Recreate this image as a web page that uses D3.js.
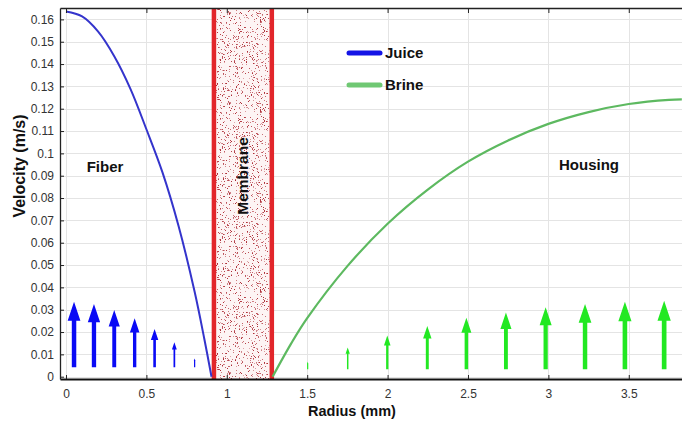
<!DOCTYPE html>
<html>
<head>
<meta charset="utf-8">
<script src="https://cdn.jsdelivr.net/npm/d3@7"></script>
<style>
  body { margin: 0; background: #fff; }
  svg { display: block; font-family: "Liberation Sans", Arial, sans-serif; }
  .tick text { fill: #333; font-size: 12px; }
  .lbl { font-weight: bold; fill: #111; }
</style>
</head>
<body>
<div id="chart"></div>
<script>
// data vars (radius in mm, velocity in m/s)
const juiceRadius = [0, 0.1, 0.2, 0.3, 0.4, 0.5, 0.6, 0.7, 0.8, 0.86, 0.905];
const juiceVelocity = [0.1635, 0.1613, 0.1545, 0.1435, 0.129, 0.1108, 0.0915, 0.0675, 0.038, 0.017, 0];

const brineRadius = [1.285, 1.4, 1.5, 1.75, 2.0, 2.25, 2.5, 2.75, 3.0, 3.25, 3.5, 3.75, 3.83];
const brineVelocity = [0, 0.0148, 0.0262, 0.0495, 0.0685, 0.0838, 0.0963, 0.1058, 0.1132, 0.1185, 0.1221, 0.124, 0.1242];

const juiceArrowRadius = [0.05, 0.174, 0.30, 0.427, 0.551, 0.674, 0.80];
const juiceArrowTip = [0.0336, 0.0326, 0.0299, 0.0262, 0.0214, 0.0154, 0.0082];
const juiceArrowBase = 0.0042;

const brineArrowRadius = [1.503, 1.752, 1.998, 2.247, 2.49, 2.736, 2.983, 3.228, 3.476, 3.72];
const brineArrowTip = [0.0067, 0.0131, 0.0184, 0.0227, 0.0264, 0.0288, 0.0311, 0.0326, 0.0336, 0.034];
const brineArrowBase = 0.0033;

const membraneEdges = [0.92, 1.28];

const xTicks = [0, 0.5, 1, 1.5, 2, 2.5, 3, 3.5];
const yTicks = d3.range(0, 0.1601, 0.01);

// constants
const width = 682;
const height = 422;
const margin = { top: 8, right: 0, bottom: 43, left: 60 };

const x = d3.scaleLinear()
  .domain([-0.0373, 3.831])
  .range([margin.left, width - margin.right]);

const y = d3.scaleLinear()
  .domain([-0.00103, 0.1651])
  .range([height - margin.bottom, margin.top]);

const svg = d3.select("#chart")
  .append("svg")
  .attr("width", width)
  .attr("height", height);

// grid
svg.append("g")
  .selectAll("line")
  .data(yTicks)
  .join("line")
  .attr("x1", margin.left)
  .attr("x2", width)
  .attr("y1", d => Math.round(y(d)) + 0.5)
  .attr("y2", d => Math.round(y(d)) + 0.5)
  .attr("stroke", "#e4e4e4");

svg.append("g")
  .selectAll("line")
  .data(xTicks)
  .join("line")
  .attr("x1", d => Math.round(x(d)) + 0.5)
  .attr("x2", d => Math.round(x(d)) + 0.5)
  .attr("y1", margin.top)
  .attr("y2", height - margin.bottom)
  .attr("stroke", "#e4e4e4");

// membrane stipple (texture only)
const defs = svg.append("defs");
const pat = defs.append("pattern")
  .attr("id", "stipple")
  .attr("patternUnits", "userSpaceOnUse")
  .attr("width", 60)
  .attr("height", 90);
const rnd = d3.randomLcg(0.42);
for (let i = 0; i < 680; i++) {
  pat.append("rect")
    .attr("x", Math.floor(rnd() * 60))
    .attr("y", Math.floor(rnd() * 90))
    .attr("width", 1)
    .attr("height", 1)
    .attr("fill", "#a8202a")
    .attr("opacity", 0.35 + rnd() * 0.6);
}

svg.append("rect")
  .attr("x", x(membraneEdges[0]))
  .attr("y", margin.top)
  .attr("width", x(membraneEdges[1]) - x(membraneEdges[0]))
  .attr("height", height - margin.bottom - margin.top)
  .attr("fill", "#fdf4f4");

svg.append("rect")
  .attr("x", x(membraneEdges[0]))
  .attr("y", margin.top)
  .attr("width", x(membraneEdges[1]) - x(membraneEdges[0]))
  .attr("height", height - margin.bottom - margin.top)
  .attr("fill", "url(#stipple)");

svg.append("g")
  .selectAll("line")
  .data(membraneEdges)
  .join("line")
  .attr("x1", d => x(d))
  .attr("x2", d => x(d))
  .attr("y1", margin.top)
  .attr("y2", height - margin.bottom)
  .attr("stroke", "#e2262b")
  .attr("stroke-width", 4.5);

svg.append("text")
  .attr("class", "lbl")
  .attr("transform", `translate(${ (x(membraneEdges[0]) + x(membraneEdges[1])) / 2 + 5 }, 176) rotate(-90)`)
  .attr("text-anchor", "middle")
  .style("font-size", "15.5px")
  .text("Membrane");

// arrows
function arrowPath(r, tip, base) {
  const px = x(r);
  const yt = y(tip);
  const yb = y(base);
  const len = yb - yt;
  const hl = 0.29 * len;
  const hw = 0.097 * len;
  const sw = Math.max(0.034 * len, 0.6);
  return `M${px - sw},${yb} L${px - sw},${yt + hl} L${px - hw},${yt + hl} L${px},${yt} ` +
    `L${px + hw},${yt + hl} L${px + sw},${yt + hl} L${px + sw},${yb} Z`;
}

svg.append("g")
  .selectAll("path")
  .data(juiceArrowRadius)
  .join("path")
  .attr("d", (d, i) => arrowPath(d, juiceArrowTip[i], juiceArrowBase))
  .attr("fill", "#0a0af5");

svg.append("g")
  .selectAll("path")
  .data(brineArrowRadius)
  .join("path")
  .attr("d", (d, i) => arrowPath(d, brineArrowTip[i], brineArrowBase))
  .attr("fill", "#22e822");

// curves
const line = d3.line()
  .x(d => x(d[0]))
  .y(d => y(d[1]))
  .curve(d3.curveCatmullRom);

svg.append("path")
  .datum(juiceRadius.map((r, i) => [r, juiceVelocity[i]]))
  .attr("d", line)
  .attr("fill", "none")
  .attr("stroke", "#3434cc")
  .attr("stroke-width", 2);

svg.append("path")
  .datum(brineRadius.map((r, i) => [r, brineVelocity[i]]))
  .attr("d", line)
  .attr("fill", "none")
  .attr("stroke", "#5db960")
  .attr("stroke-width", 2.2);

// axes
const xAxis = g => g
  .attr("transform", `translate(0, ${ height - margin.bottom })`)
  .call(d3.axisBottom(x).tickValues(xTicks).tickFormat(d3.format("")).tickSizeInner(-4).tickSizeOuter(0).tickPadding(10))
  .call(g => g.select(".domain").attr("stroke", "#111").attr("stroke-width", 2))
  .call(g => g.selectAll(".tick line").attr("stroke", "#222"));

const yAxis = g => g
  .attr("transform", `translate(${ margin.left }, 0)`)
  .call(d3.axisLeft(y).tickValues(yTicks).tickFormat(d => d3.format("")(+d.toFixed(2))).tickSizeInner(-4).tickSizeOuter(0).tickPadding(6))
  .call(g => g.select(".domain").attr("stroke", "#222").attr("stroke-width", 1.3))
  .call(g => g.selectAll(".tick line").attr("stroke", "#222"));

const topAxis = g => g
  .attr("transform", `translate(0, ${ margin.top })`)
  .call(d3.axisTop(x).tickValues(xTicks).tickFormat("").tickSizeInner(-5).tickSizeOuter(0))
  .call(g => g.select(".domain").attr("stroke", "#222").attr("stroke-width", 1.3))
  .call(g => g.selectAll(".tick line").attr("stroke", "#222"));

svg.append("g").call(yAxis);
svg.append("g").call(xAxis);
svg.append("g").call(topAxis);

svg.selectAll(".tick text").attr("font-family", "Liberation Sans, Arial, sans-serif").style("font-size", "12px");

// axis titles
svg.append("text")
  .attr("class", "lbl")
  .attr("transform", `translate(25, 166) rotate(-90)`)
  .attr("text-anchor", "middle")
  .style("font-size", "16px")
  .text("Velocity (m/s)");

svg.append("text")
  .attr("class", "lbl")
  .attr("x", 352)
  .attr("y", 416)
  .attr("text-anchor", "middle")
  .style("font-size", "14.5px")
  .text("Radius (mm)");

// region labels
svg.append("text")
  .attr("class", "lbl")
  .attr("x", 105)
  .attr("y", 172)
  .attr("text-anchor", "middle")
  .style("font-size", "15px")
  .text("Fiber");

svg.append("text")
  .attr("class", "lbl")
  .attr("x", 589)
  .attr("y", 170)
  .attr("text-anchor", "middle")
  .style("font-size", "15px")
  .text("Housing");

// legend
const legendItems = [
  { name: "Juice", color: "#1414e6", y: 53 },
  { name: "Brine", color: "#6fc873", y: 85 }
];

const legend = svg.append("g");
legend.selectAll("line")
  .data(legendItems)
  .join("line")
  .attr("x1", 349)
  .attr("x2", 380)
  .attr("y1", d => d.y)
  .attr("y2", d => d.y)
  .attr("stroke", d => d.color)
  .attr("stroke-width", 5)
  .attr("stroke-linecap", "round");

legend.selectAll("text")
  .data(legendItems)
  .join("text")
  .attr("class", "lbl")
  .attr("x", 385)
  .attr("y", d => d.y + 5)
  .style("font-size", "15px")
  .text(d => d.name);
</script>
</body>
</html>
